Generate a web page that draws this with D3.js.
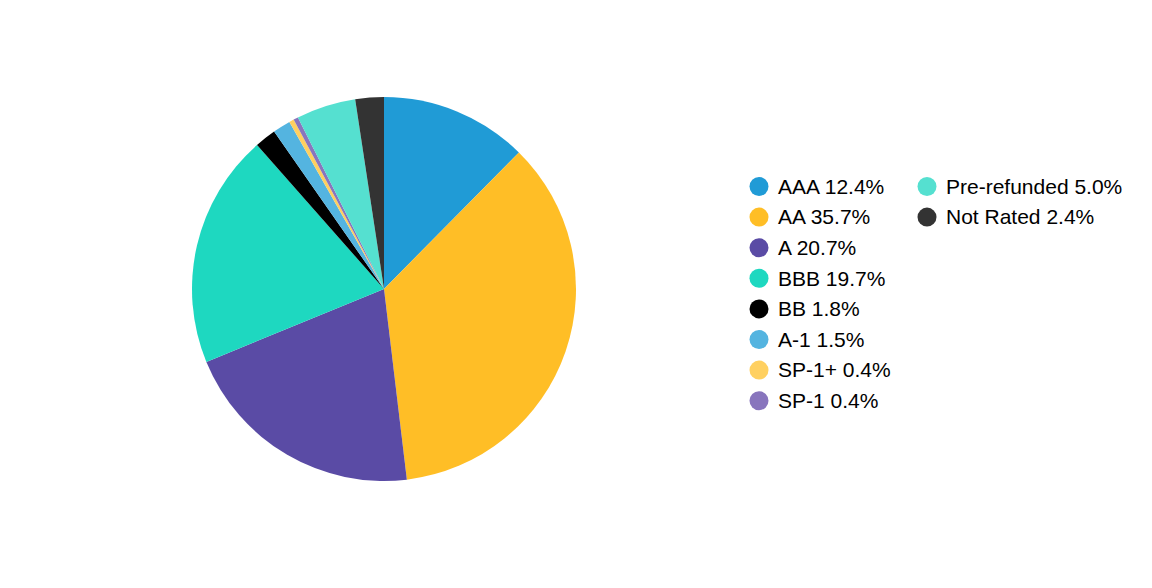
<!DOCTYPE html>
<html><head><meta charset="utf-8">
<script src="https://cdn.jsdelivr.net/npm/d3@7"></script>
<style>body{margin:0;background:#fff;}svg{display:block;font-family:"Liberation Sans",Arial,sans-serif;}</style>
</head><body>
<svg id="chart" width="1152" height="588"></svg>
<script>
const categories = ["AAA","AA","A","BBB","BB","A-1","SP-1+","SP-1","Pre-refunded","Not Rated"];
const values = [12.4,35.7,20.7,19.7,1.8,1.5,0.4,0.4,5.0,2.4];
const colors = ["#209bd6","#ffbe26","#5a4ba5","#1ed8c0","#000000","#54b4e0","#ffd060","#8875bd","#55e0d0","#333333"];

const data = categories.map((c,i)=>({name:c,value:values[i],color:colors[i]}));
const svg = d3.select("#chart");
const cx = 384, cy = 289, r = 192;
const pie = d3.pie().sort(null).value(d=>d.value);
const arc = d3.arc().innerRadius(0).outerRadius(r);
const g = svg.append("g").attr("transform",`translate(${cx},${cy})`);
g.selectAll("path").data(pie(data)).join("path")
  .attr("d",arc).attr("fill",d=>d.data.color);

const perCol = 8, colW = 168, rowH = 30.6;
const lg = svg.append("g").attr("transform","translate(759,186.5)");
const items = lg.selectAll("g").data(data).join("g")
  .attr("transform",(d,i)=>`translate(${Math.floor(i/perCol)*colW},${(i%perCol)*rowH})`);
items.append("circle").attr("r",9.5).attr("fill",d=>d.color);
items.append("text").attr("x",19).attr("dy","0.35em")
  .attr("font-size",21).attr("fill","#000")
  .text(d=>`${d.name} ${d.value.toFixed(1)}%`);
</script>
</body></html>
